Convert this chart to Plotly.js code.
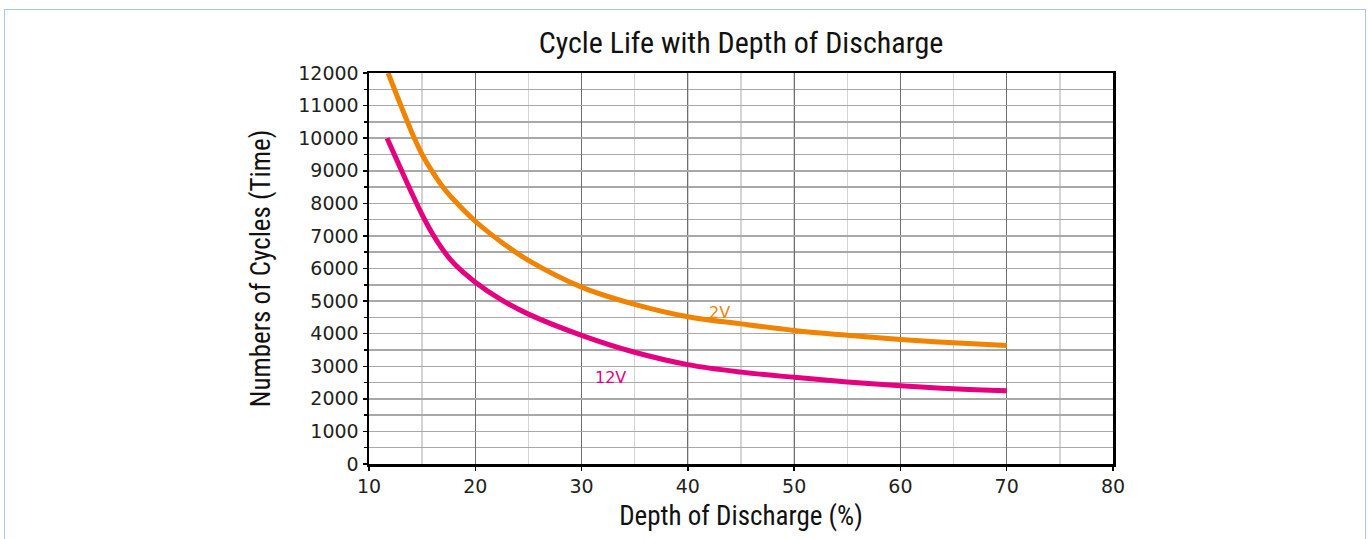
<!DOCTYPE html>
<html>
<head>
<meta charset="utf-8">
<script src="https://cdn.plot.ly/plotly-3.0.1.min.js"></script>
<style>
html,body{margin:0;padding:0;background:#fff;}
#chart{width:1368px;height:539px;}
#frame{position:absolute;left:4px;top:9px;width:1360px;height:620px;border:1.5px solid #a6c8ec;border-bottom:none;pointer-events:none;}
</style>
</head>
<body>
<div id="chart"></div>
<div id="frame"></div>
<script>
// Depth of discharge (%)
const dod2V  = [11.8, 13, 14, 15, 16, 17, 18, 20, 22.5, 25, 30, 35, 40, 45, 50, 55, 60, 65, 70];
const cyc2V  = [12000, 11000, 10200, 9500, 8950, 8480, 8100, 7450, 6800, 6250, 5430, 4900, 4520, 4300, 4100, 3950, 3820, 3720, 3640];
const dod12V = [11.7, 13, 14, 15, 16, 17, 18, 20, 22.5, 25, 30, 35, 40, 45, 50, 55, 60, 65, 70];
const cyc12V = [10000, 9050, 8330, 7650, 7050, 6550, 6150, 5580, 5030, 4600, 3950, 3430, 3050, 2820, 2660, 2520, 2400, 2310, 2250];
const xTicks = [10, 20, 30, 40, 50, 60, 70, 80];
const yTicks = [0, 1000, 2000, 3000, 4000, 5000, 6000, 7000, 8000, 9000, 10000, 11000, 12000];
const seriesNames = ['2V', '12V'];
const labelPos = [[43.0, 4660], [32.7, 2670]];

const orange = '#f08300';
const pink = '#e4007f';
const textCol = '#231f20';
const condensed = '"Liberation Sans Narrow", "Roboto Condensed", "Arial Narrow", sans-serif';

const traces = [
  {x: dod2V, y: cyc2V, mode: 'lines', name: seriesNames[0], line: {color: orange, width: 5, shape: 'spline', smoothing: 1}, hoverinfo: 'x+y'},
  {x: dod12V, y: cyc12V, mode: 'lines', name: seriesNames[1], line: {color: pink, width: 5, shape: 'spline', smoothing: 1}, hoverinfo: 'x+y'}
];

const layout = {
  width: 1368, height: 539,
  margin: {l: 369, r: 255, t: 73, b: 75, pad: 0},
  paper_bgcolor: '#fff', plot_bgcolor: '#fff',
  showlegend: false,
  title: {text: 'Cycle Life with Depth of Discharge', font: {family: condensed, size: 30, color: '#111'}, x: 0.5417, xanchor: 'center', y: 0.922, yanchor: 'middle'},
  xaxis: {
    range: [10, 80], tickvals: xTicks, ticktext: xTicks.map(String),
    ticks: 'outside', ticklen: 4, tickwidth: 1.5, tickcolor: '#000',
    showline: true, linecolor: '#000', linewidth: 2.5, mirror: true,
    showgrid: true, gridcolor: '#6e6e6e', gridwidth: 1,
    minor: {dtick: 5, tick0: 5, showgrid: true, gridcolor: '#d4d4d4', gridwidth: 1.5, ticks: ''},
    zeroline: false,
    tickfont: {family: 'DejaVu Sans', size: 19, color: textCol},
    title: {text: 'Depth of Discharge (%)', font: {family: condensed, size: 27, color: '#111'}, standoff: 10}
  },
  yaxis: {
    range: [0, 12000], tickvals: yTicks, ticktext: yTicks.map(String),
    ticks: 'outside', ticklen: 4, tickwidth: 1.5, tickcolor: '#000',
    showline: true, linecolor: '#000', linewidth: 2.5, mirror: true,
    showgrid: true, gridcolor: '#a8a8a8', gridwidth: 1.5,
    minor: {dtick: 500, showgrid: true, gridcolor: '#a8a8a8', gridwidth: 1.5, ticks: 'outside', ticklen: 3, tickcolor: '#000', tickwidth: 1.5},
    zeroline: false,
    tickfont: {family: 'DejaVu Sans', size: 19, color: textCol},
    title: {text: 'Numbers of Cycles (Time)', font: {family: condensed, size: 27, color: '#111'}, standoff: 20}
  },
  annotations: [
    {x: labelPos[0][0], y: labelPos[0][1], text: seriesNames[0], showarrow: false, font: {family: 'DejaVu Sans', size: 16, color: orange}},
    {x: labelPos[1][0], y: labelPos[1][1], text: seriesNames[1], showarrow: false, font: {family: 'DejaVu Sans', size: 16, color: pink}}
  ]
};

Plotly.newPlot('chart', traces, layout, {displayModeBar: false, staticPlot: true});
</script>
</body>
</html>
